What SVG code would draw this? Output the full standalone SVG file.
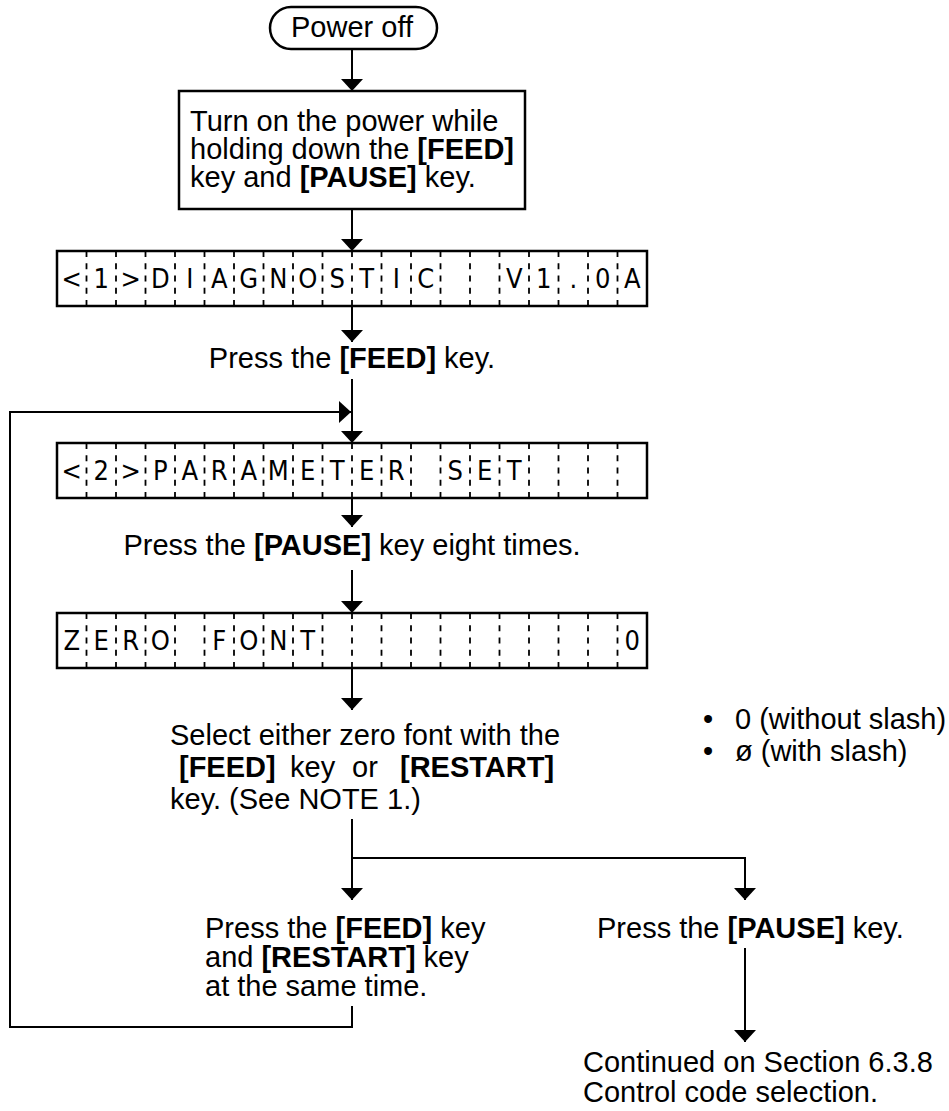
<svg xmlns="http://www.w3.org/2000/svg" width="949" height="1111" viewBox="0 0 949 1111">
<style>
.t{font-family:"Liberation Sans",Arial,sans-serif;font-size:29px;fill:#000}
.b{font-weight:bold}
.box{fill:#fff;stroke:#000;stroke-width:2.5}
.ln{fill:none;stroke:#000;stroke-width:2}
.dv{fill:none;stroke:#000;stroke-width:1.8;stroke-dasharray:6 6.25}
.lcd{font-family:"Liberation Sans Narrow","DejaVu Sans Condensed","DejaVu Sans",sans-serif;font-stretch:condensed;font-size:27px;text-anchor:middle;fill:#000}
.mid{text-anchor:middle}
</style>
<defs>
<marker id="ah" viewBox="0 0 12 22" refX="12" refY="11" markerWidth="12" markerHeight="22" markerUnits="userSpaceOnUse" orient="auto"><path d="M0,0 L12,11 L0,22 z" fill="#000"/></marker>
</defs>
<g id="connectors">
<path class="ln" d="M352,49 V91" marker-end="url(#ah)"/>
<path class="ln" d="M352,209 V251" marker-end="url(#ah)"/>
<path class="ln" d="M352,306 V342" marker-end="url(#ah)"/>
<path class="ln" d="M352,379 V443" marker-end="url(#ah)"/>
<path class="ln" d="M352,1006 V1027 H10 V412 H351" marker-end="url(#ah)"/>
<path class="ln" d="M352,498 V527" marker-end="url(#ah)"/>
<path class="ln" d="M352,570 V613" marker-end="url(#ah)"/>
<path class="ln" d="M352,668 V710" marker-end="url(#ah)"/>
<path class="ln" d="M352,819 V900" marker-end="url(#ah)"/>
<path class="ln" d="M352,858 H745 V900" marker-end="url(#ah)"/>
<path class="ln" d="M745,948 V1042" marker-end="url(#ah)"/>
</g>
<g id="power-off">
<rect class="box" x="270" y="7" width="167" height="42" rx="21"/>
<text class="t mid" x="352" y="37">Power off</text>
</g>
<g id="turn-on">
<rect class="box" x="179" y="91" width="346" height="118"/>
<text class="t" x="190" y="131">Turn on the power while</text>
<text class="t" x="190" y="159">holding down the <tspan class="b">[FEED]</tspan></text>
<text class="t" x="190" y="187">key and <tspan class="b">[PAUSE]</tspan> key.</text>
</g>
<g id="lcd-diagnostic">
<rect class="box" x="57" y="251" width="590" height="55"/>
<path class="dv" d="M86.5 251V306M116 251V306M145.5 251V306M175 251V306M204.5 251V306M234 251V306M263.5 251V306M293 251V306M322.5 251V306M352 251V306M381.5 251V306M411 251V306M440.5 251V306M470 251V306M499.5 251V306M529 251V306M558.5 251V306M588 251V306M617.5 251V306"/>
<text class="lcd" x="71.75 101.25 130.75 160.25 189.75 219.25 248.75 278.25 307.75 337.25 366.75 396.25 425.75" y="288">&lt;1&gt;DIAGNOSTIC</text>
<text class="lcd" x="514.25 543.75 573.25 602.75 632.25" y="288">V1.0A</text>
</g>
<g id="press-feed">
<text class="t mid" x="352" y="368">Press the <tspan class="b">[FEED]</tspan> key.</text>
</g>
<g id="lcd-parameter">
<rect class="box" x="57" y="443" width="590" height="55"/>
<path class="dv" d="M86.5 443V498M116 443V498M145.5 443V498M175 443V498M204.5 443V498M234 443V498M263.5 443V498M293 443V498M322.5 443V498M352 443V498M381.5 443V498M411 443V498M440.5 443V498M470 443V498M499.5 443V498M529 443V498M558.5 443V498M588 443V498M617.5 443V498"/>
<text class="lcd" x="71.75 101.25 130.75 160.25 189.75 219.25 248.75 278.25 307.75 337.25 366.75 396.25" y="480">&lt;2&gt;PARAMETER</text>
<text class="lcd" x="455.25 484.75 514.25" y="480">SET</text>
</g>
<g id="press-pause-eight">
<text class="t mid" x="352" y="555">Press the <tspan class="b">[PAUSE]</tspan> key eight times.</text>
</g>
<g id="lcd-zero-font">
<rect class="box" x="57" y="613" width="590" height="55"/>
<path class="dv" d="M86.5 613V668M116 613V668M145.5 613V668M175 613V668M204.5 613V668M234 613V668M263.5 613V668M293 613V668M322.5 613V668M352 613V668M381.5 613V668M411 613V668M440.5 613V668M470 613V668M499.5 613V668M529 613V668M558.5 613V668M588 613V668M617.5 613V668"/>
<text class="lcd" x="71.75 101.25 130.75 160.25" y="650">ZERO</text>
<text class="lcd" x="219.25 248.75 278.25 307.75" y="650">FONT</text>
<text class="lcd" x="632.25" y="650">0</text>
</g>
<g id="select-zero-font">
<text class="t" x="170" y="745">Select either zero font with the</text>
<text class="t" y="777"><tspan class="b" x="179">[FEED]</tspan><tspan x="290">key</tspan><tspan x="352">or</tspan><tspan class="b" x="400">[RESTART]</tspan></text>
<text class="t" x="170" y="809">key. (See NOTE 1.)</text>
</g>
<g id="zero-options">
<text class="t" x="703" y="729">•</text>
<text class="t" x="735" y="729">0 (without slash)</text>
<text class="t" x="703" y="761">•</text>
<text class="t" x="735" y="761">ø (with slash)</text>
</g>
<g id="press-feed-restart">
<text class="t" x="205" y="938">Press the <tspan class="b">[FEED]</tspan> key</text>
<text class="t" x="205" y="967">and <tspan class="b">[RESTART]</tspan> key</text>
<text class="t" x="205" y="996">at the same time.</text>
</g>
<g id="press-pause">
<text class="t" x="597" y="938">Press the <tspan class="b">[PAUSE]</tspan> key.</text>
</g>
<g id="continued">
<text class="t" x="583" y="1072">Continued on Section 6.3.8</text>
<text class="t" x="583" y="1102">Control code selection.</text>
</g>
</svg>
